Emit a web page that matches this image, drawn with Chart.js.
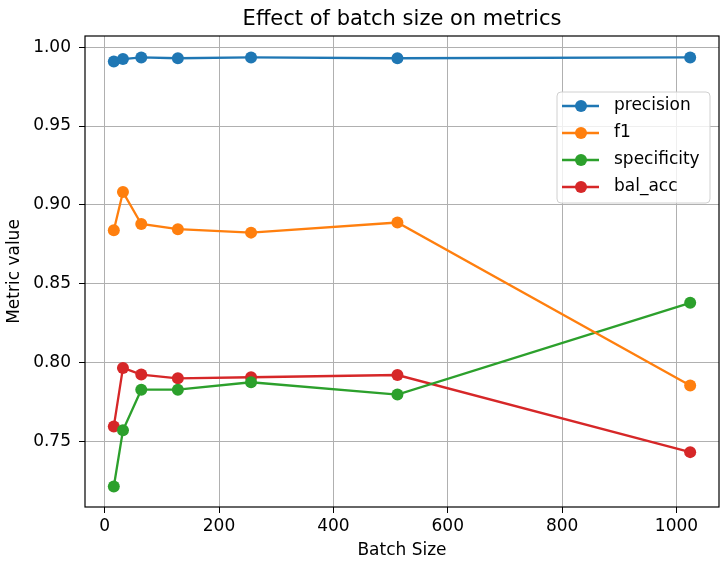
<!DOCTYPE html>
<html>
<head>
<meta charset="utf-8">
<script src="https://cdn.jsdelivr.net/npm/chart.js@4"></script>
<style>
  html, body { margin: 0; padding: 0; background: #fff; }
  #chart { display: block; }
</style>
</head>
<body>
<canvas id="chart" width="727" height="565"></canvas>
<script>
const batchSizes = [16, 32, 64, 128, 256, 512, 1024];
const precision = [0.991, 0.9925, 0.9935, 0.993, 0.9935, 0.993, 0.9935];
const f1 = [0.8839, 0.9081, 0.8879, 0.8846, 0.8824, 0.8888, 0.7854];
const specificity = [0.7214, 0.757, 0.7828, 0.7828, 0.7875, 0.7797, 0.8379];
const balAcc = [0.7595, 0.7966, 0.7924, 0.790, 0.7907, 0.7921, 0.7432];

const seriesNames = ['precision', 'f1', 'specificity', 'bal_acc'];
const seriesValues = [precision, f1, specificity, balAcc];
const xTicks = [0, 200, 400, 600, 800, 1000];
const yTicks = [0.75, 0.80, 0.85, 0.90, 0.95, 1.00];

const colors = ['#1f77b4', '#ff7f0e', '#2ca02c', '#d62728'];
const FONT = 'DejaVu Sans';

const datasets = seriesNames.map((name, i) => ({
    label: name,
    data: batchSizes.map((b, j) => ({ x: b, y: seriesValues[i][j] })),
    borderColor: colors[i],
    backgroundColor: colors[i],
    borderWidth: 2.3,
    pointRadius: 6,
    pointBorderWidth: 0,
    pointHoverRadius: 6,
    tension: 0
}));

// matplotlib-like frame, title and legend
const decorations = {
    id: 'decorations',
    afterDatasetsDraw(chart) {
        const { ctx, chartArea: a } = chart;
        ctx.save();
        ctx.strokeStyle = '#000';
        ctx.lineWidth = 1.2;
        ctx.strokeRect(a.left, a.top, a.right - a.left, a.bottom - a.top);

        ctx.fillStyle = '#000';
        ctx.font = '21px "' + FONT + '"';
        ctx.textAlign = 'center';
        ctx.textBaseline = 'alphabetic';
        ctx.fillText('Effect of batch size on metrics', (a.left + a.right) / 2, 25);

        // legend box
        const bx = 557, by = 92, bw = 153, bh = 111;
        ctx.beginPath();
        ctx.roundRect(bx, by, bw, bh, 4);
        ctx.fillStyle = 'rgba(255,255,255,0.8)';
        ctx.fill();
        ctx.strokeStyle = '#d0d0d0';
        ctx.lineWidth = 1;
        ctx.stroke();

        ctx.font = '17px "' + FONT + '"';
        ctx.textAlign = 'left';
        ctx.textBaseline = 'middle';
        chart.data.datasets.forEach((ds, i) => {
            const y = 106 + i * 27;
            ctx.strokeStyle = ds.borderColor;
            ctx.lineWidth = 2.3;
            ctx.beginPath();
            ctx.moveTo(562, y);
            ctx.lineTo(599, y);
            ctx.stroke();
            ctx.fillStyle = ds.backgroundColor;
            ctx.beginPath();
            ctx.arc(581, y, 6, 0, Math.PI * 2);
            ctx.fill();
            ctx.fillStyle = '#000';
            ctx.fillText(ds.label, 614, y);
        });
        ctx.restore();
    }
};

new Chart(document.getElementById('chart'), {
    type: 'line',
    data: { datasets },
    options: {
        responsive: false,
        animation: false,
        events: [],
        layout: { padding: { left: 0, top: 36, right: 8, bottom: 0 } },
        plugins: {
            legend: { display: false },
            title: { display: false },
            tooltip: { enabled: false }
        },
        scales: {
            x: {
                type: 'linear',
                min: -34.4,
                max: 1074.4,
                afterFit: s => { s.height = 58; },
                afterBuildTicks: s => { s.ticks = xTicks.map(v => ({ value: v })); },
                grid: { color: '#b0b0b0', lineWidth: 1, tickColor: '#000', tickLength: 6 },
                border: { display: false },
                ticks: {
                    color: '#000',
                    padding: 3,
                    maxRotation: 0,
                    font: { family: FONT, size: 17 },
                    callback: v => String(v)
                },
                title: {
                    display: true,
                    text: 'Batch Size',
                    color: '#000',
                    font: { family: FONT, size: 17 },
                    padding: { top: 0, bottom: 4 }
                }
            },
            y: {
                type: 'linear',
                min: 0.7084,
                max: 1.0071,
                afterFit: s => { s.width = 85; },
                afterBuildTicks: s => { s.ticks = yTicks.map(v => ({ value: v })); },
                grid: { color: '#b0b0b0', lineWidth: 1, tickColor: '#000', tickLength: 6 },
                border: { display: false },
                ticks: {
                    color: '#000',
                    padding: 8,
                    font: { family: FONT, size: 17 },
                    callback: v => v.toFixed(2)
                },
                title: {
                    display: true,
                    text: 'Metric value',
                    color: '#000',
                    font: { family: FONT, size: 17 },
                    padding: { top: 4, bottom: 0 }
                }
            }
        }
    },
    plugins: [decorations]
});
</script>
</body>
</html>
